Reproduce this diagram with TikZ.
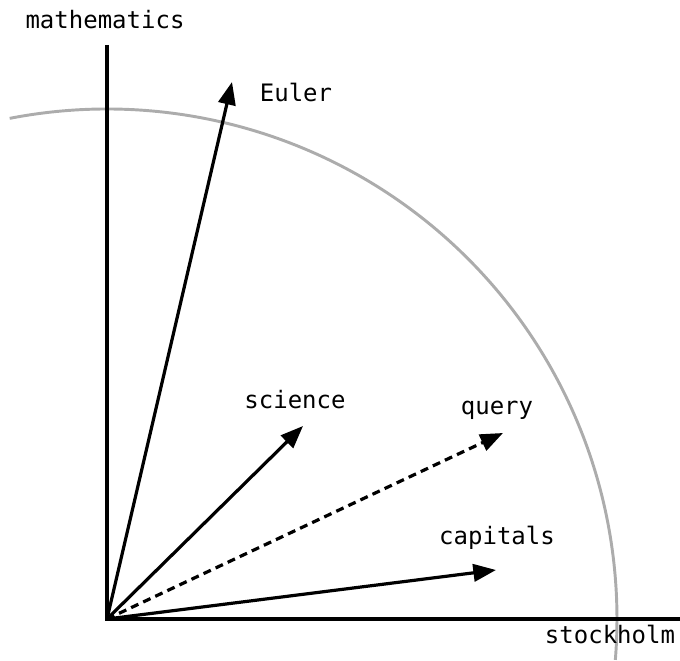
\documentclass[tikz,border=0pt]{standalone}
\usepackage{fontspec}
\setmonofont{DejaVu Sans Mono}
\usetikzlibrary{arrows.meta}

\begin{document}
\begin{tikzpicture}[
    x=0.75pt, y=0.75pt,
    axis/.style={line width=2.6pt},
    vec/.style={-{Triangle[length=17pt,width=13pt]}, line width=2.4pt},
    lbl/.style={font=\ttfamily\fontsize{18}{20}\selectfont, inner sep=0pt}
]
\useasboundingbox (-107,-41) rectangle (573,619);
\coordinate (o) at (0,0);
\coordinate (ytop) at (0,574);
\coordinate (xend) at (573,0);
\coordinate (euler) at (125,537);
\coordinate (science) at (196,193);
\coordinate (query) at (396,186);
\coordinate (capitals) at (389,49);

% unit circle
\draw[gray!65, line width=2.2pt] (101:510) arc[start angle=101, end angle=-4.6, radius=510];

\draw[axis] (ytop) -- (o) -- (xend);
\draw[vec] (o) -- (euler);
\draw[vec] (o) -- (science);
\draw[vec, dash pattern=on 6pt off 4pt] (o) -- (query);
\draw[vec] (o) -- (capitals);

\node[lbl] (math) at (-2,599) {mathematics};
\node[lbl] (eulerl) at (189,527) {Euler};
\node[lbl] (sciencel) at (188,219) {science};
\node[lbl] (queryl) at (390,209) {query};
\node[lbl] (capitalsl) at (390,81) {capitals};
\node[lbl] (stock) at (503,-15) {stockholm};
\end{tikzpicture}
\end{document}
